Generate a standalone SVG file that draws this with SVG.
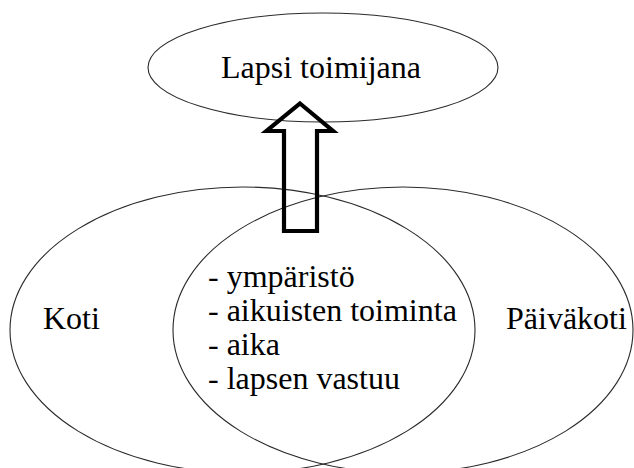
<svg xmlns="http://www.w3.org/2000/svg" width="634" height="468" viewBox="0 0 634 468">
  <style>
    .oval { fill: none; stroke: #2a2a2a; stroke-width: 1.1; }
    .lbl { font-family: 'Liberation Serif', 'Times New Roman', serif; font-size: 32px; fill: #000; }
    .arrow { fill: none; stroke: #000; stroke-width: 4.2; stroke-linejoin: miter; }
  </style>
  <rect width="634" height="468" fill="#fff"/>

  <!-- left set -->
  <g id="koti">
    <ellipse class="oval" cx="242.5" cy="330" rx="232.5" ry="143"/>
    <text class="lbl" x="43" y="329">Koti</text>
  </g>

  <!-- right set -->
  <g id="paivakoti">
    <ellipse class="oval" cx="403" cy="330" rx="230" ry="143"/>
    <text class="lbl" x="506" y="329">Päiväkoti</text>
  </g>

  <!-- shared area list -->
  <g id="yhteiset">
    <text class="lbl" x="208" y="287">- ympäristö</text>
    <text class="lbl" x="208" y="321">- aikuisten toiminta</text>
    <text class="lbl" x="208" y="355">- aika</text>
    <text class="lbl" x="208" y="389">- lapsen vastuu</text>
  </g>

  <!-- goal at the top -->
  <g id="lapsi-toimijana">
    <ellipse class="oval" cx="323" cy="67.5" rx="175" ry="54.5"/>
    <text class="lbl" x="221" y="78">Lapsi toimijana</text>
  </g>

  <!-- hollow block arrow from the overlap up to the goal -->
  <g id="connectors">
    <polygon class="arrow" points="300,103.5 333,131 317,131 317,231 284,231 284,131 266.5,131"/>
  </g>
</svg>
